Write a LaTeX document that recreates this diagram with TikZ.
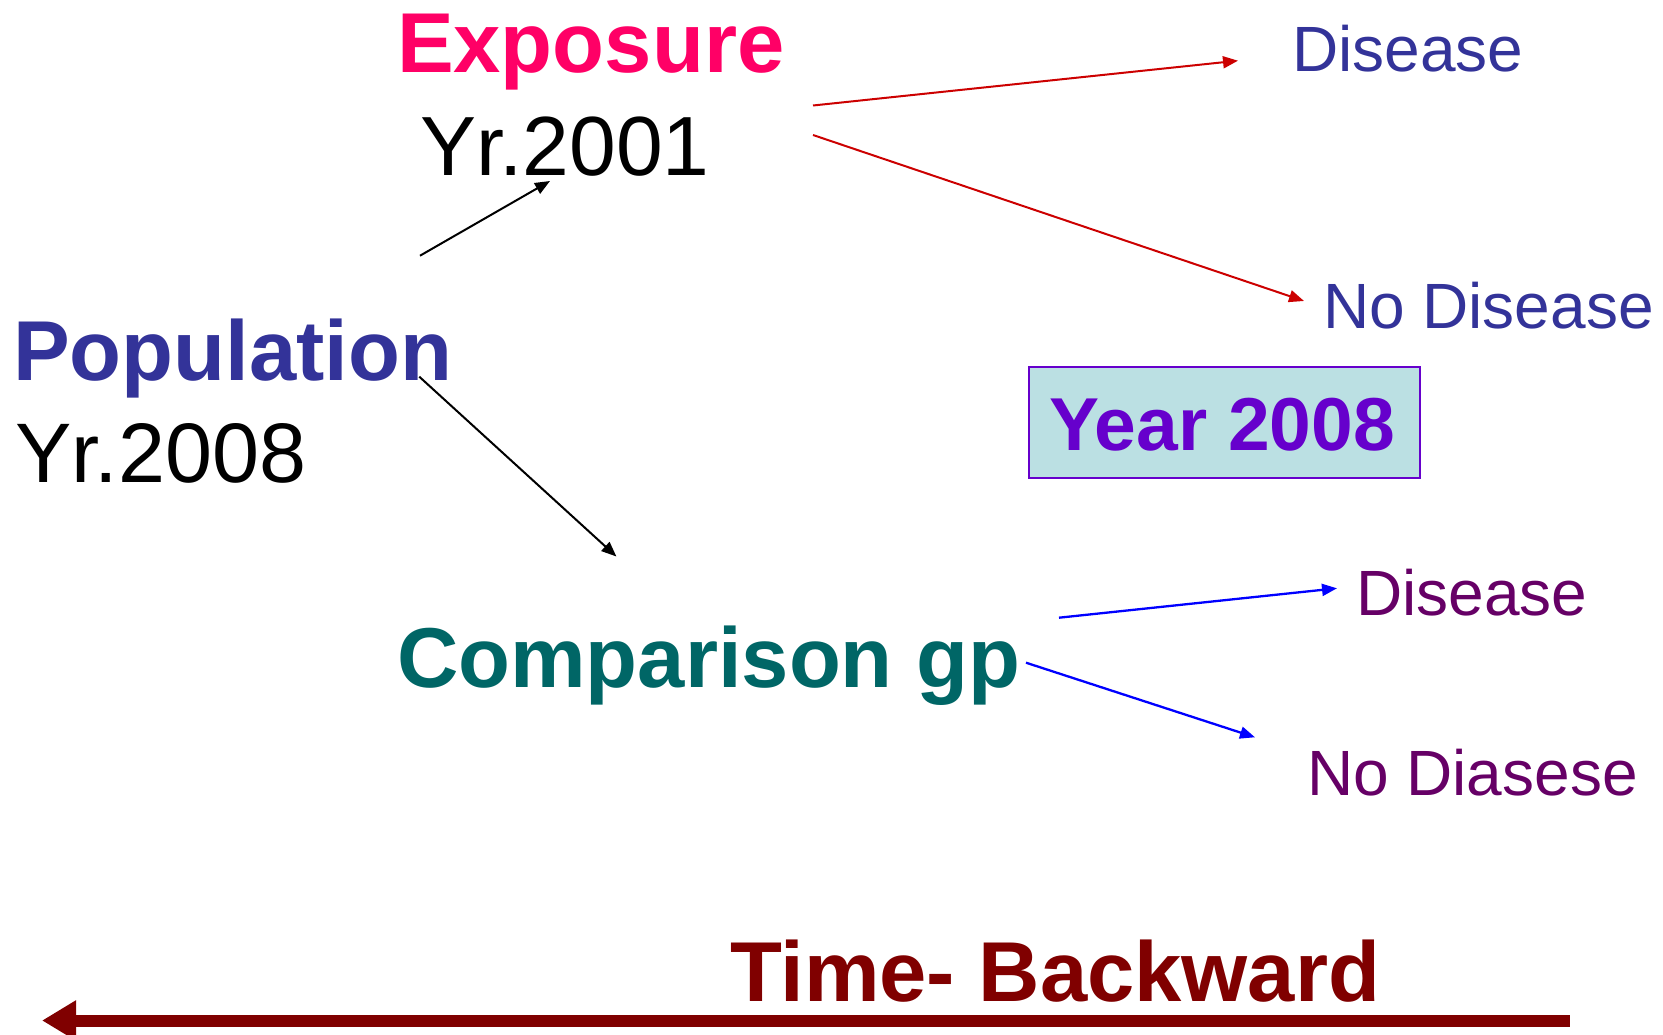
\documentclass[tikz,border=0pt]{standalone}
\usepackage{fontspec}
\setmainfont{Liberation Sans}
\usetikzlibrary{arrows.meta}

\definecolor{expink}{HTML}{FF0066}
\definecolor{popblue}{HTML}{333399}
\definecolor{cmpteal}{HTML}{006666}
\definecolor{outpurple}{HTML}{660066}
\definecolor{yrviolet}{HTML}{6600CC}
\definecolor{yrfill}{HTML}{BBE0E3}
\definecolor{arrred}{HTML}{CC0000}
\definecolor{timered}{HTML}{800000}

\tikzset{
  lbl/.style={anchor=base west, inner sep=0pt, outer sep=0pt},
  headline/.style={lbl, font=\fontsize{85}{102}\selectfont\bfseries},
  yearline/.style={lbl, font=\fontsize{84.5}{102}\selectfont},
  outcome/.style={lbl, font=\fontsize{64}{77}\selectfont},
  thinarrow/.style={line width=2pt, -{Triangle[length=15pt,width=12pt]}},
  yearbox/.style={draw=yrviolet, fill=yrfill, line width=2pt, inner sep=0pt,
    minimum width=391pt, minimum height=111pt},
}

\begin{document}
\begin{tikzpicture}[x=1pt, y=-1pt]
\useasboundingbox (0,0) rectangle (1663,1035);

% study groups
\node[headline, text=expink] (exp) at (397,72.7) {Exposure};
\node[yearline, font=\fontsize{84}{102}\selectfont] (exp yr) at (420,175.7) {Yr.2001};
\node[headline, text=popblue] (pop) at (13,380) {Population};
\node[yearline] (pop yr) at (15,482.7) {Yr.2008};
\node[headline, text=cmpteal] (cmp) at (397,687) {Comparison gp};

% outcomes
\node[outcome, text=popblue] (exp dis) at (1292,71.7) {Disease};
\node[outcome, text=popblue] (exp nodis) at (1323,328.3) {No Disease};
\node[outcome, text=outpurple] (cmp dis) at (1356,615) {Disease};
\node[outcome, text=outpurple] (cmp nodis) at (1307,795) {No Diasese};

% year of assessment
\node[yearbox] (yrbox) at (1224.5,422.2) {};
\node[lbl, font=\fontsize{75}{90}\selectfont\bfseries, text=yrviolet] (yrtext) at (1049,450) {Year 2008};

% time direction
\node[headline, text=timered] (time) at (730,1001) {Time- Backward};

% connector end points
\coordinate (pop up) at (420,255.7);
\coordinate (exp in) at (550,181);
\coordinate (pop down) at (419.3,376.7);
\coordinate (cmp in) at (616.4,556.5);
\coordinate (exp out1) at (813,105.5);
\coordinate (exp dis in) at (1238,60.7);
\coordinate (exp out2) at (813,135);
\coordinate (exp nodis in) at (1304,301);
\coordinate (cmp out1) at (1059,617.7);
\coordinate (cmp dis in) at (1337,588.3);
\coordinate (cmp out2) at (1026,662.7);
\coordinate (cmp nodis in) at (1255,737.3);
\coordinate (time start) at (1569.5,1020.5);
\coordinate (time end) at (42,1020.5);

% population splits into the two groups
\draw[thinarrow, black] (pop up) -- (exp in);
\draw[thinarrow, black] (pop down) -- (cmp in);

% exposed group outcomes
\draw[thinarrow, arrred] (exp out1) -- (exp dis in);
\draw[thinarrow, arrred] (exp out2) -- (exp nodis in);

% comparison group outcomes
\draw[thinarrow, blue, line width=2.3pt] (cmp out1) -- (cmp dis in);
\draw[thinarrow, blue, line width=2.3pt] (cmp out2) -- (cmp nodis in);

% backward time axis
\draw[timered, line width=12pt, -{Triangle[length=34pt,width=38pt]}] (time start) -- (time end);
\end{tikzpicture}
\end{document}
